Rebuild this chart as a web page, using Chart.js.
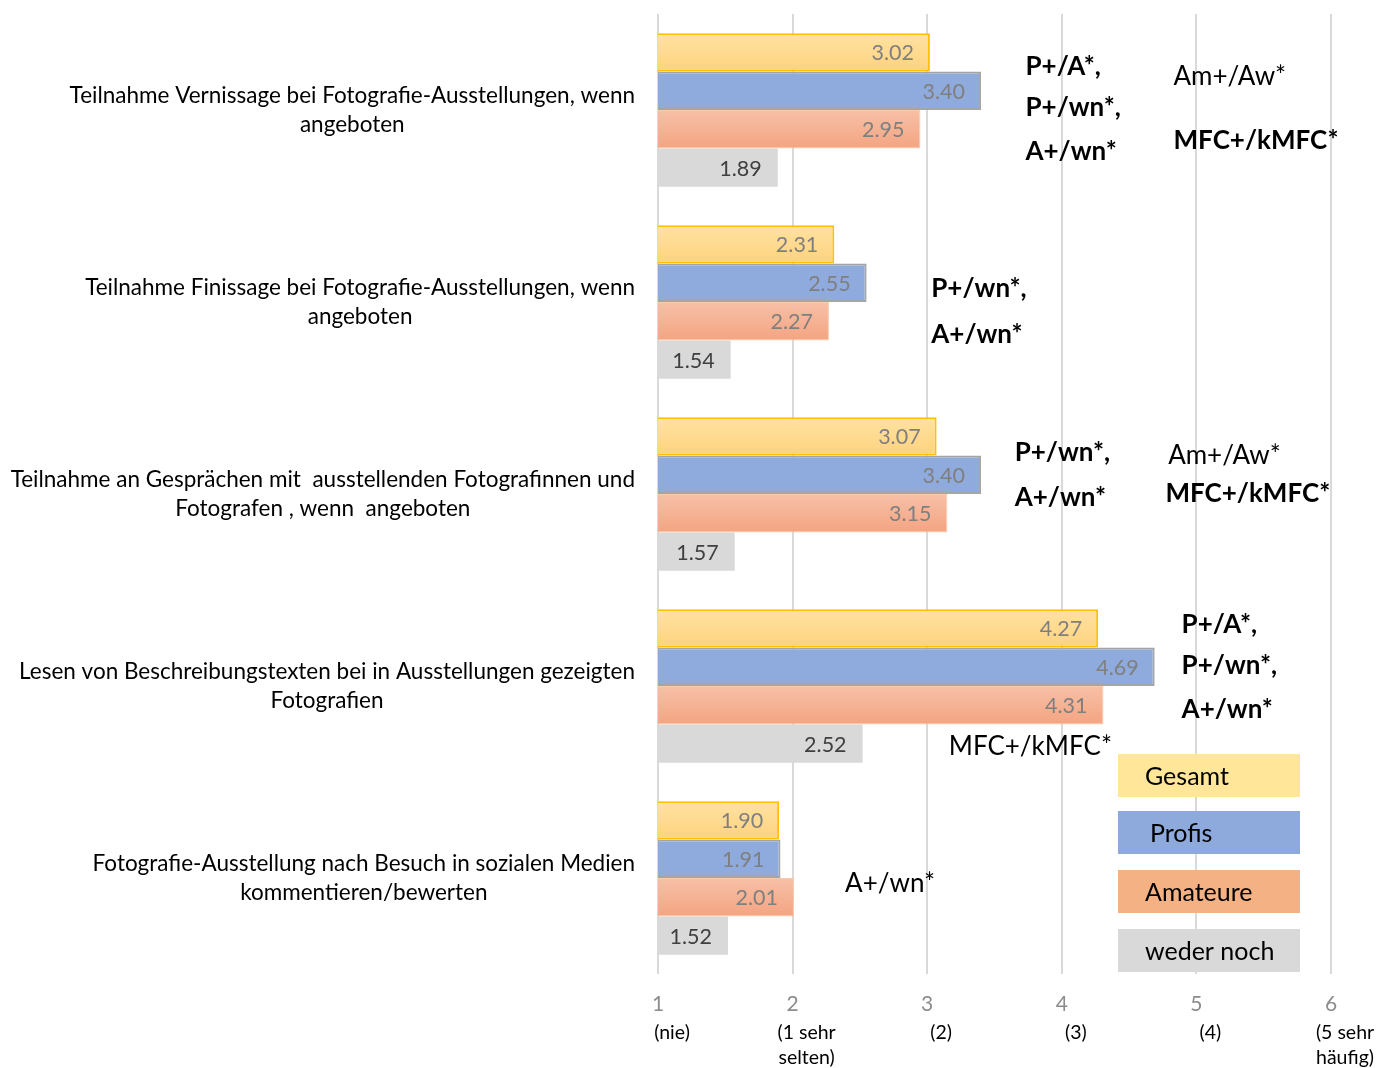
<!DOCTYPE html>
<html lang="de">
<head>
<meta charset="utf-8">
<title>Teilnahme und Nutzung – Fotografie-Ausstellungen</title>
<script src="https://cdn.jsdelivr.net/npm/chart.js@4.4.1/dist/chart.umd.min.js"></script>
<style>
  html, body { margin: 0; padding: 0; background: #ffffff; }
  #wrap { width: 1397px; height: 1068px; }
</style>
</head>
<body>
<div id="wrap"><canvas id="chart" width="1397" height="1068"></canvas></div>
<script>
// Activities (category labels, one array of lines per category)
const categories = [
  ["Teilnahme Vernissage bei Fotografie-Ausstellungen, wenn", "angeboten"],
  ["Teilnahme Finissage bei Fotografie-Ausstellungen, wenn", "angeboten"],
  ["Teilnahme an Gesprächen mit  ausstellenden Fotografinnen und", "Fotografen , wenn  angeboten"],
  ["Lesen von Beschreibungstexten bei in Ausstellungen gezeigten", "Fotografien"],
  ["Fotografie-Ausstellung nach Besuch in sozialen Medien", "kommentieren/bewerten"]
];

// Mean values per group
const gesamt     = [3.02, 2.31, 3.07, 4.27, 1.90];
const profis     = [3.40, 2.55, 3.40, 4.69, 1.91];
const amateure   = [2.95, 2.27, 3.15, 4.31, 2.01];
const wederNoch  = [1.89, 1.54, 1.57, 2.52, 1.52];

const seriesNames = ["Gesamt", "Profis", "Amateure", "weder noch"];

// Scale: 1..6 with verbal anchors
const tickValues = [1, 2, 3, 4, 5, 6];
const tickSubLabels = [["(nie)"], ["(1 sehr", "selten)"], ["(2)"], ["(3)"], ["(4)"], ["(5 sehr", "häufig)"]];

// Significance notes beside each activity
const noteTexts = [
  ["P+/A*,", "P+/wn*,", "A+/wn*", "Am+/Aw*", "MFC+/kMFC*"],
  ["P+/wn*,", "A+/wn*"],
  ["P+/wn*,", "A+/wn*", "Am+/Aw*", "MFC+/kMFC*"],
  ["P+/A*,", "P+/wn*,", "A+/wn*", "MFC+/kMFC*"],
  ["A+/wn*"]
];
const noteBold = [
  [true, true, true, false, true],
  [true, true],
  [true, true, false, true],
  [true, true, true, false],
  [false]
];
// placement: x on the value axis, y as offset from the category centre (px)
const noteX = [
  [3.73, 3.73, 3.73, 4.83, 4.83],
  [3.03, 3.03],
  [3.65, 3.65, 4.79, 4.77],
  [4.89, 4.89, 4.89, 3.16],
  [2.39]
];
const noteDy = [
  [-43, -2, 42, -33, 31],
  [-13, 33],
  [-41, 4, -38, 0],
  [-61, -20, 24, 61],
  [6]
];

const FONT = "Lato, 'Open Sans', sans-serif";

// vertical gradient helper for a bar of given dataset within a category
function barGradient(ctx, topColor, bottomColor) {
  const chart = ctx.chart;
  const y = chart.scales && chart.scales.y;
  if (!y || ctx.dataIndex === undefined) return bottomColor;
  const p0 = y.getPixelForValue(0), p1 = y.getPixelForValue(1);
  if (!isFinite(p0) || !isFinite(p1)) return bottomColor;
  const band = Math.abs(p1 - p0);
  const center = y.getPixelForValue(ctx.dataIndex);
  const thick = band * 0.8 / 4;
  const top = center - band * 0.4 + ctx.datasetIndex * thick;
  if (!isFinite(top) || !isFinite(thick) || thick <= 0) return bottomColor;
  const g = chart.ctx.createLinearGradient(0, top, 0, top + thick);
  g.addColorStop(0, topColor);
  g.addColorStop(1, bottomColor);
  return g;
}

const legendColors = ["#FFE699", "#8EA9DB", "#F4B183", "#D9D9D9"];

// Category labels: block right-aligned to the axis, lines centred inside the block
const categoryLabelPlugin = {
  id: "categoryLabels",
  afterDraw(chart) {
    const { ctx, chartArea } = chart;
    const y = chart.scales.y;
    ctx.save();
    ctx.font = "22.5px " + FONT;
    ctx.fillStyle = "#000000";
    ctx.textAlign = "center";
    ctx.textBaseline = "middle";
    const right = chartArea.left - 23;
    categories.forEach((lines, i) => {
      const w = Math.max(...lines.map(l => ctx.measureText(l).width));
      const cx = right - w / 2;
      const cy = y.getPixelForValue(i);
      lines.forEach((l, k) => {
        ctx.fillText(l, cx, cy + (k - (lines.length - 1) / 2) * 29);
      });
    });
    ctx.restore();
  }
};

// Sub-captions under the numeric ticks
const tickSubLabelPlugin = {
  id: "tickSubLabels",
  afterDraw(chart) {
    const { ctx } = chart;
    const x = chart.scales.x;
    ctx.save();
    ctx.font = "19.5px " + FONT;
    ctx.fillStyle = "#000000";
    ctx.textAlign = "center";
    ctx.textBaseline = "middle";
    tickValues.forEach((v, i) => {
      const px = x.getPixelForValue(v) + 14;
      tickSubLabels[i].forEach((l, k) => ctx.fillText(l, px, 1033 + k * 25));
    });
    ctx.restore();
  }
};

// Values written inside the bar ends
const valueLabelPlugin = {
  id: "valueLabels",
  afterDatasetsDraw(chart) {
    const { ctx } = chart;
    ctx.save();
    ctx.font = "21.5px " + FONT;
    ctx.textAlign = "right";
    ctx.textBaseline = "middle";
    chart.data.datasets.forEach((ds, di) => {
      const meta = chart.getDatasetMeta(di);
      ctx.fillStyle = di === 3 ? "#404040" : "#7F7F7F";
      meta.data.forEach((bar, i) => {
        ctx.fillText(ds.data[i].toFixed(2), bar.x - 16, bar.y + 1);
      });
    });
    ctx.restore();
  }
};

// Significance notes
const notesPlugin = {
  id: "notes",
  afterDraw(chart) {
    const { ctx } = chart;
    const x = chart.scales.x, y = chart.scales.y;
    ctx.save();
    ctx.fillStyle = "#000000";
    ctx.textAlign = "left";
    ctx.textBaseline = "middle";
    noteTexts.forEach((arr, ci) => {
      const cy = y.getPixelForValue(ci);
      arr.forEach((t, k) => {
        ctx.font = (noteBold[ci][k] ? "bold " : "") + "26px " + FONT;
        ctx.fillText(t, x.getPixelForValue(noteX[ci][k]), cy + noteDy[ci][k]);
      });
    });
    ctx.restore();
  }
};

// Legend as filled boxes with the series name inside
const boxLegendPlugin = {
  id: "boxLegend",
  afterDraw(chart) {
    const { ctx } = chart;
    ctx.save();
    ctx.textAlign = "left";
    ctx.textBaseline = "middle";
    ctx.font = "25px " + FONT;
    const left = 1118, width = 182, height = 43;
    const tops = [754, 811, 870, 929];
    const textOffsets = [27, 32, 27, 27];
    seriesNames.forEach((name, i) => {
      ctx.fillStyle = legendColors[i];
      ctx.fillRect(left, tops[i], width, height);
      ctx.fillStyle = "#000000";
      ctx.fillText(name, left + textOffsets[i], tops[i] + height / 2 + 1);
    });
    ctx.restore();
  }
};

new Chart(document.getElementById("chart"), {
  type: "bar",
  data: {
    labels: categories,
    datasets: [
      {
        label: seriesNames[0], data: gesamt,
        backgroundColor: c => barGradient(c, "#FFE2A2", "#FFD27E"),
        borderColor: "#FFC000", borderWidth: 2
      },
      {
        label: seriesNames[1], data: profis,
        backgroundColor: "#8FAADC",
        borderColor: "#A5A5A5", borderWidth: 2
      },
      {
        label: seriesNames[2], data: amateure,
        backgroundColor: c => barGradient(c, "#F7C0A6", "#F4A482"),
        borderColor: "#F8CBAD", borderWidth: 1
      },
      {
        label: seriesNames[3], data: wederNoch,
        backgroundColor: "#D9D9D9", borderWidth: 0
      }
    ]
  },
  options: {
    indexAxis: "y",
    responsive: false,
    animation: false,
    events: [],
    layout: { padding: { top: 14, right: 66, bottom: 0, left: 0 } },
    datasets: { bar: { categoryPercentage: 0.8, barPercentage: 1.0 } },
    plugins: { legend: { display: false }, tooltip: { enabled: false } },
    scales: {
      x: {
        type: "linear",
        min: 1, max: 6,
        afterBuildTicks(scale) { scale.ticks = tickValues.map(v => ({ value: v })); },
        afterFit(scale) { scale.height = 94; },
        ticks: {
          color: "#8C8C8C",
          font: { family: FONT, size: 21 },
          padding: 18,
          callback: v => String(v)
        },
        grid: { color: "#D9D9D9", lineWidth: 2, drawTicks: false },
        border: { display: false }
      },
      y: {
        afterFit(scale) { scale.width = 658; },
        ticks: { display: false },
        grid: { display: false },
        border: { display: false }
      }
    }
  },
  plugins: [valueLabelPlugin, categoryLabelPlugin, tickSubLabelPlugin, notesPlugin, boxLegendPlugin]
});
</script>
</body>
</html>
